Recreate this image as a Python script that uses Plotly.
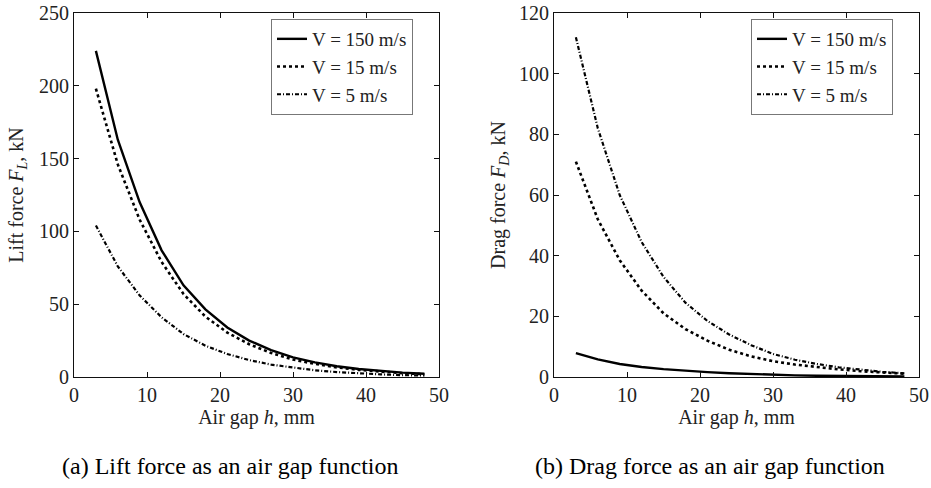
import plotly.graph_objects as go

# Air gap h, mm
air_gap = [3, 6, 9, 12, 15, 18, 21, 24, 27, 30, 33, 36, 39, 42, 45, 48]

# Lift force F_L, kN
lift_v150 = [224, 163, 120, 87, 63, 46.5, 34, 25, 18.5, 13.5, 10, 7.4, 5.5, 4.0, 3.0, 2.2]
lift_v15 = [198, 146, 108, 79, 57, 41.5, 30.5, 22.5, 16.5, 12, 9, 6.6, 4.9, 3.6, 2.6, 1.9]
lift_v5 = [104, 76, 56, 41, 29.5, 21.5, 15.8, 11.6, 8.5, 6.3, 4.6, 3.4, 2.5, 1.8, 1.3, 1.0]

# Drag force F_D, kN
drag_v150 = [7.9, 5.8, 4.3, 3.3, 2.6, 2.0, 1.6, 1.25, 0.95, 0.72, 0.55, 0.42, 0.32, 0.25, 0.19, 0.15]
drag_v15 = [71, 52, 38.5, 28.5, 21, 15.8, 12, 9, 6.8, 5.2, 4.1, 3.2, 2.5, 1.9, 1.5, 1.1]
drag_v5 = [112, 82, 60, 44.5, 33, 24.5, 18.5, 14, 10.5, 7.6, 5.7, 4.3, 3.2, 2.4, 1.7, 1.2]

series_names = ["V = 150 m/s", "V = 15 m/s", "V = 5 m/s"]
x_ticks = [0, 10, 20, 30, 40, 50]
lift_ticks = [0, 50, 100, 150, 200, 250]
drag_ticks = [0, 20, 40, 60, 80, 100, 120]

FONT = "Liberation Serif"
styles = [
    dict(color="black", width=2.4, dash="solid"),
    dict(color="black", width=2.6, dash="3px,3px"),
    dict(color="black", width=2.2, dash="4px,2px,1px,2px"),
]

fig = go.Figure()
for name, ys, st in zip(series_names, [lift_v150, lift_v15, lift_v5], styles):
    fig.add_trace(go.Scatter(x=air_gap, y=ys, mode="lines", name=name, line=st,
                             xaxis="x", yaxis="y", legend="legend"))
for name, ys, st in zip(series_names, [drag_v150, drag_v15, drag_v5], styles):
    fig.add_trace(go.Scatter(x=air_gap, y=ys, mode="lines", name=name, line=st,
                             xaxis="x2", yaxis="y2", legend="legend2"))

W, H = 931, 488
left_dom = [74 / W, 439 / W]
right_dom = [554 / W, 919 / W]
y_dom = [(H - 377) / H, (H - 13) / H]

axis_common = dict(
    showline=True, linecolor="#111", linewidth=1, mirror="ticks",
    ticks="inside", ticklen=5, tickcolor="#111", showgrid=False, zeroline=False,
    automargin=False,
    tickfont=dict(family=FONT, size=20, color="#222"),
    title_font=dict(family=FONT, size=20, color="#222"),
)

legend_common = dict(
    xanchor="left", yanchor="top", y=(H - 19) / H,
    bordercolor="#777", borderwidth=1, bgcolor="white",
    font=dict(family=FONT, size=19, color="#222"),
    tracegroupgap=0, itemwidth=30, entrywidth=120,
)

fig.update_layout(
    width=W, height=H,
    margin=dict(l=0, r=0, t=0, b=0),
    paper_bgcolor="white", plot_bgcolor="white",
    font=dict(family=FONT, color="#222"),
    xaxis=dict(domain=left_dom, anchor="y", range=[0, 50], tickvals=x_ticks,
               title=dict(text="Air gap <i>h</i>, mm", standoff=0), **axis_common),
    yaxis=dict(domain=y_dom, anchor="x", range=[0, 250], tickvals=lift_ticks,
               title=dict(text="Lift force <i>F</i><sub><i>L</i></sub>, kN", standoff=10), **axis_common),
    xaxis2=dict(domain=right_dom, anchor="y2", range=[0, 50], tickvals=x_ticks,
                title=dict(text="Air gap <i>h</i>, mm", standoff=0), **axis_common),
    yaxis2=dict(domain=y_dom, anchor="x2", range=[0, 120], tickvals=drag_ticks,
                title=dict(text="Drag force <i>F</i><sub><i>D</i></sub>, kN", standoff=8), **axis_common),
    legend=dict(x=271 / W, **legend_common),
    legend2=dict(x=751 / W, **legend_common),
    showlegend=True,
    annotations=[
        dict(text="(a) Lift force as an air gap function", x=230 / W, y=(H - 466) / H,
             xref="paper", yref="paper", showarrow=False, xanchor="center", yanchor="middle",
             font=dict(family=FONT, size=24, color="black")),
        dict(text="(b) Drag force as an air gap function", x=710 / W, y=(H - 466) / H,
             xref="paper", yref="paper", showarrow=False, xanchor="center", yanchor="middle",
             font=dict(family=FONT, size=24, color="black")),
    ],
)

fig.write_html("out.html")
